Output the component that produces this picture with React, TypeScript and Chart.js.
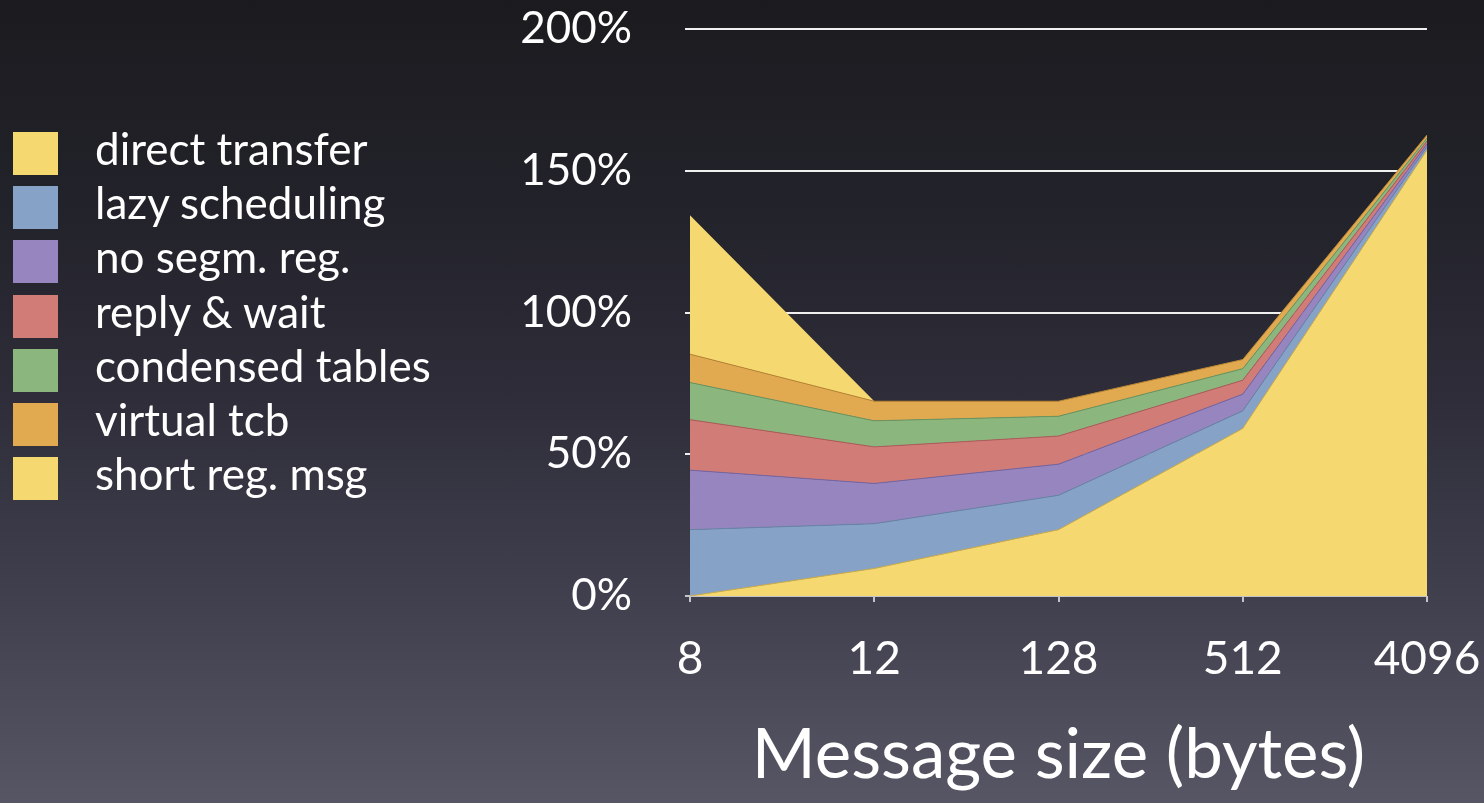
import React, { useEffect, useRef } from "react";
import { Chart, registerables } from "chart.js";

Chart.register(...registerables);

const categories = ["8", "12", "128", "512", "4096"];
const seriesNames = [
  "direct transfer",
  "lazy scheduling",
  "no segm. reg.",
  "reply & wait",
  "condensed tables",
  "virtual tcb",
  "short reg. msg",
];
const directTransfer = [0, 9.7, 23.4, 59.1, 157.3];
const lazyScheduling = [23.4, 15.8, 12.1, 6.2, 1.2];
const noSegmReg = [21.0, 14.2, 11.0, 5.9, 1.0];
const replyWait = [17.8, 12.9, 9.9, 4.9, 1.0];
const condensedTables = [13.1, 9.2, 7.0, 4.1, 1.0];
const virtualTcb = [10.0, 6.9, 5.3, 3.2, 1.1];
const shortRegMsg = [49.0, 0, 0, 0, 0];
const yTickValues = [0, 50, 100, 150, 200];
const xTitle = "Message size (bytes)";

const seriesValues = [
  directTransfer,
  lazyScheduling,
  noSegmReg,
  replyWait,
  condensedTables,
  virtualTcb,
  shortRegMsg,
];
const fillColors = ["#f5d870", "#86a2c6", "#9685bf", "#d27c78", "#8bb67d", "#e2aa50", "#f5d870"];
const edgeColors = ["#c9ad52", "#6a84a6", "#7766a0", "#ad5e5b", "#6c9560", "#b98636", "rgba(0,0,0,0)"];

const FONT = "Lato, 'Open Sans', sans-serif";

export default function App() {
  const canvasRef = useRef<HTMLCanvasElement | null>(null);

  useEffect(() => {
    const canvas = canvasRef.current;
    if (!canvas) return;
    const chart = new Chart(canvas, {
      type: "line",
      data: {
        labels: categories,
        datasets: seriesValues.map((vals, i) => ({
          label: seriesNames[i],
          data: vals,
          backgroundColor: fillColors[i],
          borderColor: edgeColors[i],
          borderWidth: i === 6 ? 0 : 1,
          pointRadius: 0,
          tension: 0,
          fill: i === 0 ? "origin" : "-1",
        })),
      },
      options: {
        animation: false,
        responsive: true,
        maintainAspectRatio: false,
        layout: { padding: { left: 490, right: 57, top: 29, bottom: 0 } },
        plugins: {
          legend: { display: false },
          tooltip: { enabled: false },
        },
        scales: {
          x: {
            type: "category",
            offset: false,
            grid: {
              drawOnChartArea: false,
              drawTicks: true,
              tickLength: 6,
              color: "#c4c4c8",
              lineWidth: 2,
            },
            border: { display: false },
            ticks: {
              color: "#ffffff",
              font: { family: FONT, size: 46 },
              padding: 30,
              maxRotation: 0,
            },
            title: {
              display: true,
              text: xTitle,
              color: "#ffffff",
              font: { family: FONT, size: 69 },
              padding: { top: 0, bottom: 6 },
            },
            afterFit: (s: any) => {
              s.height = 207;
              s.paddingLeft = 0;
              s.paddingRight = 0;
            },
          },
          y: {
            stacked: true,
            min: 0,
            max: 200,
            afterBuildTicks: (s: any) => {
              s.ticks = yTickValues.map((v) => ({ value: v }));
            },
            grid: {
              color: (c: any) => (c.tick && c.tick.value === 0 ? "#c4c4c8" : "#f0f0f0"),
              lineWidth: 2,
              drawTicks: true,
              tickLength: 5,
            },
            border: { display: false },
            ticks: {
              color: "#ffffff",
              font: { family: FONT, size: 44 },
              padding: 53,
              callback: (v: any) => v + "%",
            },
            afterFit: (s: any) => {
              s.width = 200;
              s.paddingTop = 0;
              s.paddingBottom = 0;
            },
          },
        },
      },
    });
    return () => chart.destroy();
  }, []);

  return (
    <div
      style={{
        position: "fixed",
        left: 0,
        top: 0,
        width: 1484,
        height: 803,
        background:
          "linear-gradient(to bottom, #1b1b1f 0%, #22222a 25%, #2e2d39 50%, #41404f 75%, #575665 100%)",
        overflow: "hidden",
      }}
    >
      <div style={{ position: "absolute", left: 0, top: 0, width: 1484, height: 803 }}>
        <canvas ref={canvasRef} />
      </div>
      <div style={{ position: "absolute", left: 13, top: 126 }}>
        {seriesNames.map((name, i) => (
          <div
            key={name}
            style={{ display: "flex", alignItems: "center", height: 54.3, position: "relative" }}
          >
            <div style={{ width: 45, height: 43, background: fillColors[i], flex: "none" }} />
            <span
              style={{
                marginLeft: 37,
                color: "#ffffff",
                fontFamily: FONT,
                fontSize: 44,
                lineHeight: "43px",
                whiteSpace: "nowrap",
                position: "relative",
                top: -5,
              }}
            >
              {name}
            </span>
          </div>
        ))}
      </div>
    </div>
  );
}
